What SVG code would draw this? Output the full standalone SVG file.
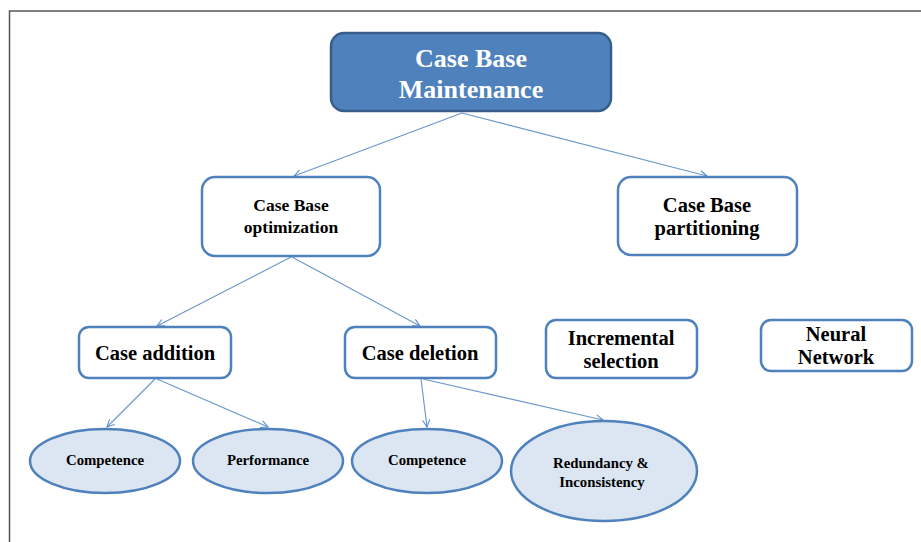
<svg xmlns="http://www.w3.org/2000/svg" width="921" height="542" viewBox="0 0 921 542">
  <defs>
    <marker id="arrow" viewBox="0 0 10 10" refX="9" refY="5" markerWidth="9" markerHeight="9" markerUnits="userSpaceOnUse" orient="auto">
      <path d="M1,1 L9,5 L1,9" fill="none" stroke="#5B8CC8" stroke-width="1.2"/>
    </marker>
  </defs>
  <style>
    .frame { stroke: #555; stroke-width: 1.5; fill: none; }
    .box { fill: #ffffff; stroke: #4F81BD; stroke-width: 2.5; }
    .root { fill: #4F81BD; stroke: #385D8A; stroke-width: 2.5; }
    .oval { fill: #DCE6F2; stroke: #4F81BD; stroke-width: 2.5; }
    .edge { stroke: #6A96CC; stroke-width: 1.1; fill: none; marker-end: url(#arrow); }
    text { font-family: "Liberation Serif", "Times New Roman", serif; font-weight: 700; text-anchor: middle; fill: #000; }
    .title { fill: #ffffff; font-size: 26px; }
    .lg { font-size: 20.5px; }
    .md { font-size: 17.5px; }
    .sm { font-size: 14.8px; }
  </style>

  <rect width="921" height="542" fill="#ffffff"/>
  <path class="frame" d="M921,11 H9.5 V542"/>

  <g id="connectors">
    <line class="edge" x1="462" y1="113" x2="294" y2="176"/>
    <line class="edge" x1="462" y1="113" x2="707" y2="176"/>
    <line class="edge" x1="291" y1="257" x2="157" y2="326"/>
    <line class="edge" x1="292" y1="257" x2="420" y2="326"/>
    <line class="edge" x1="155" y1="379" x2="107" y2="427"/>
    <line class="edge" x1="157" y1="379" x2="268" y2="427"/>
    <line class="edge" x1="421" y1="379" x2="427" y2="427"/>
    <line class="edge" x1="423" y1="379" x2="603" y2="420"/>
  </g>

  <g id="maintenance">
    <rect class="root" x="331" y="33" width="280" height="78" rx="13"/>
    <text class="title" x="471" y="67">Case Base</text>
    <text class="title" x="471" y="98">Maintenance</text>
  </g>

  <g id="optimization">
    <rect class="box" x="202" y="177" width="178" height="79" rx="13"/>
    <text class="md" x="291" y="211">Case Base</text>
    <text class="md" x="291" y="233">optimization</text>
  </g>

  <g id="partitioning">
    <rect class="box" x="618" y="177" width="179" height="78" rx="13"/>
    <text class="lg" x="707" y="212">Case Base</text>
    <text class="lg" x="707" y="235">partitioning</text>
  </g>

  <g id="addition">
    <rect class="box" x="79" y="327" width="152" height="51" rx="10"/>
    <text class="lg" x="155" y="360">Case addition</text>
  </g>

  <g id="deletion">
    <rect class="box" x="345" y="327" width="151" height="51" rx="10"/>
    <text class="lg" x="420" y="360">Case deletion</text>
  </g>

  <g id="incremental">
    <rect class="box" x="546" y="320" width="151" height="58" rx="10"/>
    <text class="lg" x="621" y="345">Incremental</text>
    <text class="lg" x="621" y="368">selection</text>
  </g>

  <g id="neural">
    <rect class="box" x="761" y="320" width="151" height="51" rx="10"/>
    <text class="lg" x="836" y="341">Neural</text>
    <text class="lg" x="836" y="364">Network</text>
  </g>

  <g id="competence-add">
    <ellipse class="oval" cx="105" cy="461" rx="75" ry="32"/>
    <text class="sm" x="105" y="465">Competence</text>
  </g>

  <g id="performance">
    <ellipse class="oval" cx="268" cy="461" rx="75" ry="32"/>
    <text class="sm" x="268" y="465">Performance</text>
  </g>

  <g id="competence-del">
    <ellipse class="oval" cx="427" cy="461" rx="75" ry="32"/>
    <text class="sm" x="427" y="465">Competence</text>
  </g>

  <g id="redundancy">
    <ellipse class="oval" cx="604" cy="471" rx="93" ry="50"/>
    <text class="sm" x="601" y="468">Redundancy &amp;</text>
    <text class="sm" x="602" y="487">Inconsistency</text>
  </g>
</svg>
